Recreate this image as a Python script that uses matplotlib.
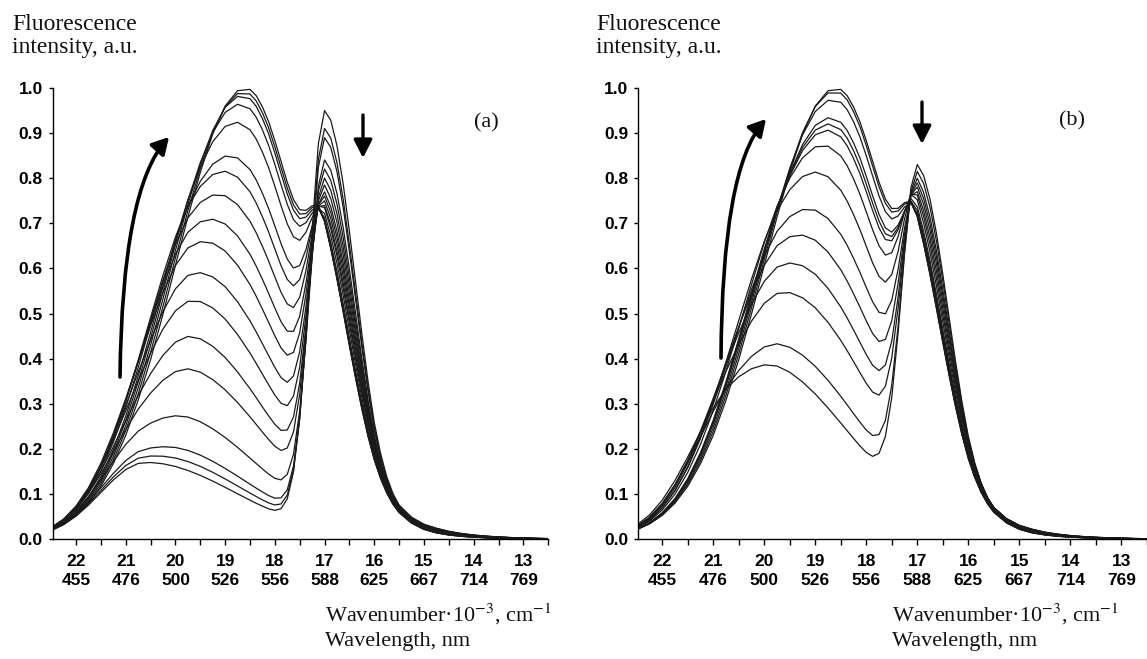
import numpy as np
import matplotlib
matplotlib.use("Agg")
import matplotlib.pyplot as plt
from matplotlib.patches import FancyArrowPatch, ArrowStyle
from matplotlib.path import Path

plt.rcParams['mathtext.fontset'] = 'stix'

W, H = 1147, 659

# wavenumber grid (10^3 cm-1), denser around the 17 band
nu = np.array([22.5, 22.25, 22.0, 21.75, 21.5, 21.25, 21.0, 20.75, 20.5, 20.25,
               20.0, 19.75, 19.5, 19.25, 19.0, 18.75, 18.5, 18.375, 18.25, 18.125,
               18.0, 17.875, 17.75, 17.625, 17.5, 17.375, 17.25, 17.125, 17.0, 16.875,
               16.75, 16.625, 16.5, 16.375, 16.25, 16.125, 16.0, 15.875, 15.75, 15.625,
               15.5, 15.25, 15.0, 14.75, 14.5, 14.25, 14.0, 13.75, 13.5, 13.25,
               13.0, 12.75, 12.5])

# band profiles (1 = band maximum)
band_A = np.array([0.108, 0.186, 0.298, 0.442, 0.607, 0.770, 0.906, 0.986, 0.998, 0.981,
                   0.946, 0.894, 0.830, 0.755, 0.674, 0.590, 0.506, 0.466, 0.427, 0.389,
                   0.352, 0.318, 0.2855, 0.255, 0.227, 0.201, 0.177, 0.155, 0.135, 0.1175,
                   0.1015, 0.0873, 0.0747, 0.0636, 0.0539, 0.0455, 0.0382, 0.0319, 0.0265, 0.0219,
                   0.0181, 0.0121, 0.0079, 0.005, 0.003, 0.002, 0.001, 0.0, 0.0, 0.0,
                   0.0, 0.0, 0.0])
band_M = np.array([0.031, 0.0549, 0.0926, 0.148, 0.225, 0.325, 0.445, 0.579, 0.716, 0.840,
                   0.936, 0.991, 0.998, 0.976, 0.932, 0.868, 0.790, 0.746, 0.700, 0.654,
                   0.607, 0.559, 0.513, 0.467, 0.423, 0.380, 0.340, 0.302, 0.267, 0.2345,
                   0.205, 0.1775, 0.153, 0.131, 0.112, 0.0946, 0.0796, 0.0665, 0.0553, 0.0457,
                   0.0375, 0.0248, 0.016, 0.010, 0.006, 0.0037, 0.0022, 0.0013, 0.0007, 0.0004,
                   0.0, 0.0, 0.0])
band_B = np.array([0.0206, 0.0334, 0.0524, 0.0796, 0.117, 0.167, 0.230, 0.308, 0.398, 0.499,
                   0.607, 0.714, 0.813, 0.898, 0.960, 0.994, 0.997, 0.983, 0.958, 0.925,
                   0.882, 0.833, 0.778, 0.719, 0.657, 0.594, 0.531, 0.470, 0.411, 0.356,
                   0.305, 0.258, 0.216, 0.179, 0.147, 0.119, 0.0957, 0.076, 0.0596, 0.0463,
                   0.0355, 0.0203, 0.0111, 0.006, 0.0035, 0.002, 0.0012, 0.0007, 0.0004, 0.0,
                   0.0, 0.0, 0.0])
band_C = np.array([0.0, 0.0, 0.0, 0.0, 0.0, 0.0, 0.0, 0.0, 0.0, 0.0,
                   0.0, 0.0, 0.0, 0.0, 0.0, 0.0, 0.0, 0.0, 0.0002, 0.0009,
                   0.0039, 0.0142, 0.0439, 0.114, 0.249, 0.458, 0.707, 0.917, 1.0, 0.980,
                   0.922, 0.833, 0.722, 0.602, 0.481, 0.369, 0.272, 0.200, 0.145, 0.105,
                   0.078, 0.050, 0.034, 0.025, 0.018, 0.013, 0.0095, 0.007, 0.005, 0.0035,
                   0.0025, 0.0015, 0.001])

# panel (a): weight of each band in every spectrum
a_wA = [0.17, 0.17, 0.17, 0.175, 0.145, 0.12, 0.10, 0.08, 0.07, 0.045, 0.03, 0.03, 0.02, 0.0, 0.0, 0.0, 0.0, 0.0]
a_wM = [0.0, 0.02, 0.045, 0.115, 0.25, 0.345, 0.42, 0.46, 0.48, 0.48, 0.45, 0.40, 0.33, 0.24, 0.16, 0.10, 0.05, 0.0]
a_wB = [0.0, 0.0, 0.0, 0.0, 0.0, 0.0, 0.03, 0.08, 0.15, 0.23, 0.335, 0.44, 0.55, 0.72, 0.83, 0.90, 0.95, 1.0]
a_wC = [0.927, 0.882, 0.855, 0.786, 0.734, 0.692, 0.647, 0.603, 0.561, 0.521, 0.478, 0.443, 0.405, 0.352, 0.322, 0.308, 0.302, 0.294]

# panel (b)
b_wA = [0.235, 0.18, 0.135, 0.105, 0.075, 0.045, 0.04, 0.02, 0.0, 0.0, 0.0, 0.0, 0.0, 0.0]
b_wM = [0.175, 0.26, 0.37, 0.42, 0.43, 0.41, 0.36, 0.28, 0.22, 0.19, 0.16, 0.09, 0.04, 0.0]
b_wB = [0.0, 0.02, 0.08, 0.13, 0.22, 0.33, 0.47, 0.62, 0.72, 0.76, 0.80, 0.90, 0.96, 1.0]
b_wC = [0.752, 0.713, 0.65, 0.61, 0.565, 0.519, 0.468, 0.42, 0.382, 0.365, 0.35, 0.322, 0.31, 0.304]

wn_ticks = [22, 21, 20, 19, 18, 17, 16, 15, 14, 13]
wl_ticks = [455, 476, 500, 526, 556, 588, 625, 667, 714, 769]


def fx(x):
    return x / W


def fy(y):
    return 1 - y / H


def setup_axes(ax):
    ax.set_xlim(22.47, 12.5)
    ax.set_ylim(0, 1.0)
    for s in ['top', 'right']:
        ax.spines[s].set_visible(False)
    for s in ['left', 'bottom']:
        ax.spines[s].set_linewidth(1.0)
    ax.set_xticks(wn_ticks, [f"{k}\n{w}" for k, w in zip(wn_ticks, wl_ticks)])
    ax.set_xticks([k - 0.5 for k in wn_ticks], minor=True)
    yt = np.round(np.arange(0, 1.01, 0.1), 1)
    ax.set_yticks(yt, [f"{v:.1f}" for v in yt])
    ax.tick_params(axis='x', which='both', direction='out', length=4, width=1, pad=7)
    ax.tick_params(axis='y', direction='out', length=3, width=1, pad=4)
    for lab in ax.get_xticklabels() + ax.get_yticklabels():
        lab.set_fontfamily('Liberation Sans')
        lab.set_fontweight('bold')
        lab.set_fontsize(12.5)
        lab.set_linespacing(1.3)


def draw_spectra(ax, wA, wM, wB, wC):
    for a, m, b, c in zip(wA, wM, wB, wC):
        y = a * band_A + m * band_M + b * band_B + c * band_C
        ax.plot(nu, y, color='#1a1a1a', lw=0.9)


fig = plt.figure(figsize=(W / 100, H / 100), dpi=100)

ax_a = fig.add_axes([fx(52.7), 120 / H, 495.5 / W, 451 / H])
ax_b = fig.add_axes([fx(638.3), 120 / H, 508.5 / W, 451 / H])

draw_spectra(ax_a, a_wA, a_wM, a_wB, a_wC)
draw_spectra(ax_b, b_wA, b_wM, b_wB, b_wC)
setup_axes(ax_a)
setup_axes(ax_b)

serif = dict(family='Liberation Serif', color='#111111')
for x0 in (12, 596):
    fig.text(fx(x0), fy(14), "Fluorescence\nintensity, a.u.", ha='left', va='top',
             fontsize=17, linespacing=1.15, **serif)
for x0 in (325, 892):
    fig.text(fx(x0), fy(602), "Wavenumber·10$^{-3}$, cm$^{-1}$\nWavelength, nm",
             ha='left', va='top', fontsize=16, linespacing=1.3, **serif)
fig.text(fx(486), fy(123), "(a)", ha='center', va='center', fontsize=16, **serif)
fig.text(fx(1072), fy(121), "(b)", ha='center', va='center', fontsize=16, **serif)

# straight arrows
for x0, y0, y1 in [(363, 115, 158), (922, 102, 144)]:
    arr = FancyArrowPatch((fx(x0), fy(y0)), (fx(x0), fy(y1)), transform=fig.transFigure,
                          arrowstyle=ArrowStyle('-|>', head_length=0.55, head_width=0.28),
                          mutation_scale=20, lw=2.4, color='black',
                          shrinkA=0, shrinkB=0)
    fig.add_artist(arr)

# curved arrows
for p0, pc, p1 in [((120, 377), (122, 189), (169, 137)),
                   ((721, 358), (722, 169), (766, 119))]:
    verts = [(fx(p0[0]), fy(p0[1])), (fx(pc[0]), fy(pc[1])), (fx(p1[0]), fy(p1[1]))]
    path = Path(verts, [Path.MOVETO, Path.CURVE3, Path.CURVE3])
    arr = FancyArrowPatch(path=path, transform=fig.transFigure,
                          arrowstyle=ArrowStyle('-|>', head_length=0.5, head_width=0.28),
                          mutation_scale=20, lw=2.6, color='black')
    fig.add_artist(arr)

fig.savefig("out.png", dpi=100)
